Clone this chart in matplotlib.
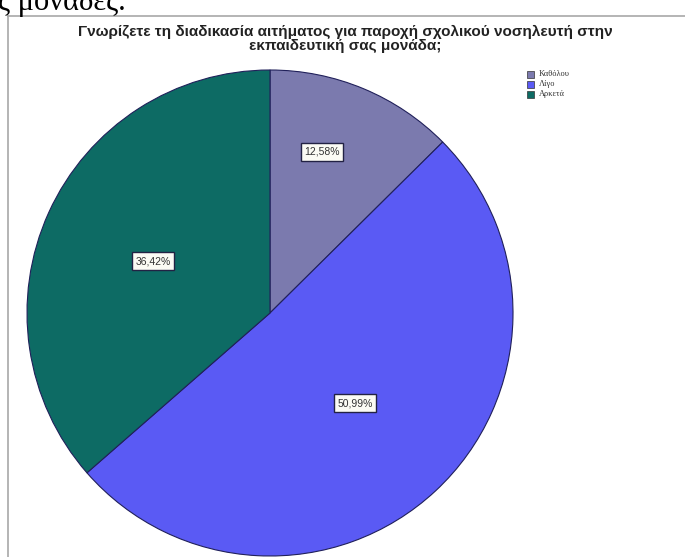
import matplotlib.pyplot as plt
from matplotlib.patches import Rectangle

# Answers to the question and their shares (%)
CATEGORIES = ["Καθόλου", "Λίγο", "Αρκετά"]
PERCENTS = [12.58, 50.99, 36.42]
COLORS = ["#7b7aae", "#5a5af4", "#0d6b64"]

TITLE = "Γνωρίζετε τη διαδικασία αιτήματος για παροχή σχολικού νοσηλευτή στην\nεκπαιδευτική σας μονάδα;"

W, H = 685, 557

fig = plt.figure(figsize=(W / 100, H / 100), dpi=100)
ax = fig.add_axes([0, 0, 1, 1])

# pie in pixel units (y measured from the bottom)
cx, cy, r = 270, H - 313, 243
wedges, texts = ax.pie(
    PERCENTS,
    colors=COLORS,
    center=(cx, cy),
    radius=r,
    startangle=90,
    counterclock=False,
    frame=True,
    wedgeprops=dict(edgecolor="#20205a", linewidth=0.8),
)

# percentage boxes inside the slices
label_pos = [(322, 152), (355, 403), (153, 261)]
for (x, y), p in zip(label_pos, PERCENTS):
    ax.text(x, H - y, f"{p:.2f}%".replace(".", ","), fontsize=7.5,
            family="Liberation Sans", ha="center", va="center", color="#333333",
            bbox=dict(boxstyle="square,pad=0.35", fc="#fbfbf4", ec="#222244", lw=1.0))

# frame of the embedded chart
ax.plot([8, 8], [0, H - 16], color="#a8a8a8", lw=1.2)
ax.plot([8, W], [H - 16, H - 16], color="#a8a8a8", lw=1.2)

# legend
for i, (name, col) in enumerate(zip(CATEGORIES, COLORS)):
    y = H - (74 + i * 10)
    ax.add_patch(Rectangle((527, y - 3.5), 7, 7, fc=col, ec="#333333", lw=0.5))
    ax.text(539, y, name, fontsize=6, family="Liberation Serif",
            va="center", ha="left", color="#333333")

ax.text(345, H - 39, TITLE, fontsize=11, fontweight="bold", family="Liberation Sans",
        ha="center", va="center", color="#222222", linespacing=0.95)

# tail of the document sentence above the chart
ax.text(-2, H - 10, "ς μονάδες.", fontsize=22, family="Liberation Serif",
        ha="left", va="baseline", color="black")

ax.set_xlim(0, W)
ax.set_ylim(0, H)
ax.set_aspect("auto")
ax.axis("off")

fig.savefig("out.png", dpi=100)
